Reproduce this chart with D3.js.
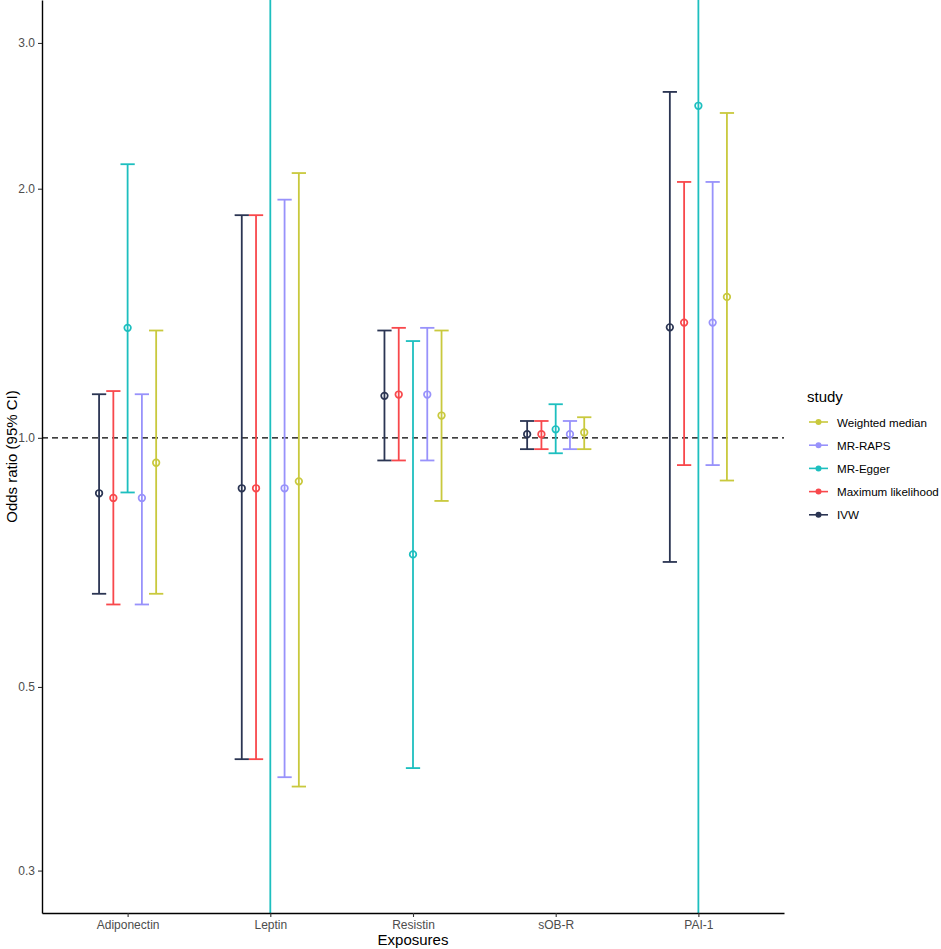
<!DOCTYPE html>
<html lang="en">
<head>
<meta charset="utf-8">
<title>Odds ratio by exposure</title>
<script src="https://d3js.org/d3.v7.min.js"></script>
<style>
  body { margin: 0; background: #fff; }
  text { font-family: "Liberation Sans", Arial, sans-serif; }
</style>
</head>
<body>
<div id="chart"></div>
<script>
// data
const exposures = ["Adiponectin", "Leptin", "Resistin", "sOB-R", "PAI-1"];
const methods = ["IVW", "Maximum likelihood", "MR-Egger", "MR-RAPS", "Weighted median"];
const methodColors = ["#2b3553", "#f8484c", "#1dbfbf", "#9892fb", "#c9c93d"];

// odds ratio estimates, lower and upper 95% CI, per method (order = exposures)
const estIVW = [0.857, 0.869, 1.124, 1.010, 1.360];
const loIVW  = [0.648, 0.409, 0.939, 0.969, 0.708];
const hiIVW  = [1.129, 1.858, 1.348, 1.048, 2.618];

const estML = [0.846, 0.869, 1.128, 1.010, 1.378];
const loML  = [0.629, 0.409, 0.939, 0.969, 0.927];
const hiML  = [1.139, 1.858, 1.358, 1.048, 2.038];

// Leptin estimate lies outside the visible range
const estEgger = [1.358, 0.20, 0.723, 1.024, 2.519];
const loEgger  = [0.859, 0.02, 0.399, 0.958, 0.15];
const hiEgger  = [2.141, 9.5, 1.309, 1.098, 40];

const estRAPS = [0.846, 0.869, 1.128, 1.010, 1.378];
const loRAPS  = [0.629, 0.389, 0.939, 0.969, 0.927];
const hiRAPS  = [1.129, 1.940, 1.358, 1.048, 2.038];

const estWM = [0.933, 0.886, 1.064, 1.015, 1.480];
const loWM  = [0.648, 0.379, 0.839, 0.969, 0.888];
const hiWM  = [1.348, 2.089, 1.348, 1.059, 2.469];

const yTicks = [0.3, 0.5, 1.0, 2.0, 3.0];

const series = [
  [estIVW, loIVW, hiIVW],
  [estML, loML, hiML],
  [estEgger, loEgger, hiEgger],
  [estRAPS, loRAPS, hiRAPS],
  [estWM, loWM, hiWM]
];

// flatten into rows for the marks
const rows = [];
methods.forEach((m, mi) => {
  exposures.forEach((e, ei) => {
    rows.push({
      method: m, mi: mi, exposure: e,
      est: series[mi][0][ei], lo: series[mi][1][ei], hi: series[mi][2][ei]
    });
  });
});

const width = 941, height = 949;
const panel = { left: 42, top: 0, right: 784, bottom: 913 };

const svg = d3.select("#chart").append("svg")
  .attr("width", width)
  .attr("height", height);

const x = d3.scalePoint()
  .domain(exposures)
  .range([panel.left, panel.right])
  .padding(0.6);

const y = d3.scaleLog()
  .domain([0.2666, 3.381])
  .range([panel.bottom, panel.top]);

const step = x.step();
const dodge = 0.1 * step;
const capHalf = dodge / 2;
const xPos = d => x(d.exposure) + (d.mi - 2) * dodge;

svg.append("defs").append("clipPath")
  .attr("id", "clip")
  .append("rect")
  .attr("x", panel.left)
  .attr("y", panel.top)
  .attr("width", panel.right - panel.left)
  .attr("height", panel.bottom - panel.top);

const plot = svg.append("g").attr("clip-path", "url(#clip)");

// reference line at OR = 1
plot.append("line")
  .attr("x1", panel.left)
  .attr("x2", panel.right)
  .attr("y1", y(1))
  .attr("y2", y(1))
  .attr("stroke", "#000")
  .attr("stroke-width", 1.3)
  .attr("stroke-dasharray", "6,4");

const bars = plot.selectAll(".bar")
  .data(rows)
  .enter().append("g")
  .attr("class", "bar")
  .attr("stroke", d => methodColors[d.mi])
  .attr("stroke-width", 1.8)
  .attr("fill", "none");

bars.append("line")
  .attr("x1", xPos).attr("x2", xPos)
  .attr("y1", d => y(d.lo))
  .attr("y2", d => y(d.hi));

bars.append("line")
  .attr("x1", d => xPos(d) - capHalf)
  .attr("x2", d => xPos(d) + capHalf)
  .attr("y1", d => y(d.lo))
  .attr("y2", d => y(d.lo));

bars.append("line")
  .attr("x1", d => xPos(d) - capHalf)
  .attr("x2", d => xPos(d) + capHalf)
  .attr("y1", d => y(d.hi))
  .attr("y2", d => y(d.hi));

bars.append("circle")
  .attr("cx", xPos)
  .attr("cy", d => y(d.est))
  .attr("r", 3.3)
  .attr("stroke-width", 1.7);

// axes
const yAxis = svg.append("g")
  .attr("transform", "translate(" + panel.left + ",0)")
  .call(d3.axisLeft(y).tickValues(yTicks).tickFormat(d3.format(".1f"))
    .tickSizeInner(4).tickSizeOuter(0).tickPadding(3));

const xAxis = svg.append("g")
  .attr("transform", "translate(0," + panel.bottom + ")")
  .call(d3.axisBottom(x).tickSizeInner(4).tickSizeOuter(0).tickPadding(3));

[yAxis, xAxis].forEach(a => {
  a.select(".domain").attr("stroke", "#000").attr("stroke-width", 1.4);
  a.selectAll(".tick line").attr("stroke", "#333").attr("stroke-width", 1.1);
  a.selectAll(".tick text")
    .attr("fill", "#4d4d4d")
    .style("font-size", "12px")
    .style("font-family", "'Liberation Sans', Arial, sans-serif");
});

// axis titles
svg.append("text")
  .attr("x", (panel.left + panel.right) / 2)
  .attr("y", 945)
  .attr("text-anchor", "middle")
  .style("font-size", "15px")
  .text("Exposures");

svg.append("text")
  .attr("transform", "translate(17," + ((panel.top + panel.bottom) / 2) + ") rotate(-90)")
  .attr("text-anchor", "middle")
  .style("font-size", "15px")
  .text("Odds ratio (95% CI)");

// legend, reversed order as in the reference
const legend = svg.append("g").attr("transform", "translate(807,0)");

legend.append("text")
  .attr("x", 0)
  .attr("y", 402)
  .style("font-size", "15px")
  .text("study");

const legendOrder = methods.map((m, i) => i).reverse();
const items = legend.selectAll(".item")
  .data(legendOrder)
  .enter().append("g")
  .attr("class", "item")
  .attr("transform", (d, i) => "translate(0," + (422 + i * 23.2) + ")");

items.append("line")
  .attr("x1", 2).attr("x2", 21)
  .attr("stroke", d => methodColors[d])
  .attr("stroke-width", 1.6);

items.append("circle")
  .attr("cx", 11.5)
  .attr("r", 3)
  .attr("fill", d => methodColors[d]);

items.append("text")
  .attr("x", 30)
  .attr("y", 4.5)
  .style("font-size", "11.6px")
  .text(d => methods[d]);
</script>
</body>
</html>
